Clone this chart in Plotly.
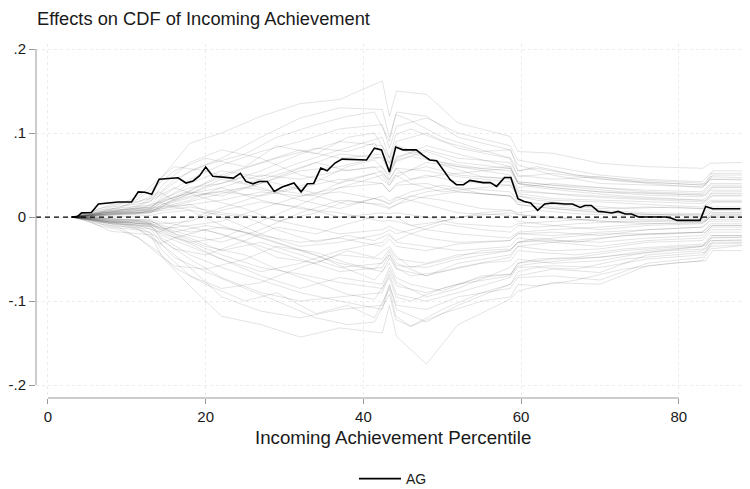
import plotly.graph_objects as go

# ---------------- data ----------------
# Black line: AG effect on CDF of incoming achievement
ag_x = [3.0, 3.65, 4.27, 5.5, 6.4, 7.9, 8.9, 10.6, 11.45, 12.3, 13.15, 14.1, 14.95, 16.5, 17.5,
        18.4, 19.2, 20.0, 20.9, 21.8, 23.5, 24.4, 25.1, 26.0, 26.8, 27.8, 28.7, 29.7, 30.5, 31.2,
        32.1, 32.9, 33.7, 34.6, 35.4, 36.4, 37.3, 40.4, 41.4, 42.3, 43.3, 44.1, 45.0, 46.7, 47.5,
        48.4, 49.3, 50.1, 51.0, 51.8, 52.7, 53.5, 54.4, 55.2, 56.1, 56.9, 57.9, 58.7, 59.6, 60.4,
        61.2, 62.1, 63.0, 63.9, 65.6, 66.5, 67.5, 68.1, 68.9, 69.8, 70.6, 71.5, 72.3, 73.2, 74.0,
        74.9, 78.3, 79.0, 79.8, 82.7, 83.4, 84.3, 87.8]
ag_y = [0, 0, .005, .0055, .0155, .0167, .018, .018, .030, .0295, .027, .045, .0455, .0468, .0405,
        .043, .049, .0595, .0485, .0476, .0464, .052, .0424, .0396, .0424, .0424, .0305, .0357, .0385, .0405,
        .030, .0396, .040, .0583, .055, .0643, .069, .068, .082, .080, .0536, .0833, .080, .080, .074,
        .068, .067, .0563, .0444, .0385, .0385, .0436, .0425, .041, .041, .0365, .047, .047, .0218, .0186,
        .0167, .0079, .0155, .0167, .0155, .0155, .0115, .0138, .0138, .0067, .006, .0048, .0067, .0036, .0036,
        0, 0, -.0012, -.004, -.004, .0126, .0099, .0099]

# Placebo (grey) lines, values in thousandths
placebo_x = [3, 5, 8, 11, 13, 14.5, 18, 22, 27, 32, 37, 42.4, 43.3, 44.2, 48, 52, 58.6, 59.6,
             64, 70, 76, 83, 84, 88]
p01 = [0, 4, 15, 18, 22, 48, 88, 100, 120, 135, 140, 162, 120, 150, 146, 112, 96, 78, 76, 64, 60, 58, 64, 65]
p02 = [0, -4, -17, -19, -21, -48, -82, -118, -128, -143, -132, -138, -105, -142, -175, -128, -98, -88, -78, -80, -58, -52, -38, -34]
p03 = [0, 2, 10, 12, 14, 30, 55, 70, 95, 118, 130, 128, 95, 125, 120, 95, 80, 62, 50, 40, 38, 36, 45, 44]
p04 = [0, -2, -10, -12, -14, -33, -60, -95, -112, -120, -110, -105, -80, -110, -125, -105, -80, -70, -62, -66, -45, -40, -28, -27]
p05 = [0, 3, 8, 10, 12, 20, 40, 55, 48, 65, 80, 95, 70, 90, 100, 82, 70, 48, 52, 45, 42, 38, 48, 47]
p06 = [0, -3, -8, -9, -11, -22, -35, -50, -70, -85, -72, -80, -60, -78, -95, -85, -60, -50, -55, -52, -42, -35, -22, -22]
p07 = [0, 1, 5, 6, 9, 18, 30, 25, 40, 55, 60, 72, 54, 70, 85, 75, 60, 40, 35, 30, 28, 26, 35, 35]
p08 = [0, -1, -5, -6, -8, -15, -25, -40, -30, -45, -60, -55, -41, -55, -70, -60, -48, -35, -40, -38, -30, -28, -18, -18]
p09 = [0, 2, 6, 8, 10, 25, 45, 62, 78, 90, 105, 110, 82, 108, 118, 100, 85, 68, 60, 50, 45, 42, 52, 52]
p10 = [0, -2, -6, -7, -9, -28, -50, -72, -90, -100, -95, -90, -68, -92, -100, -90, -72, -60, -58, -60, -50, -45, -32, -31]
p11 = [0, 1, 3, 4, 5, 10, 15, 20, 30, 25, 35, 40, 30, 40, 50, 42, 38, 25, 20, 18, 15, 12, 20, 20]
p12 = [0, -1, -3, -4, -5, -10, -18, -12, -22, -30, -25, -35, -26, -35, -40, -32, -28, -20, -18, -22, -15, -12, -5, -5]
p13 = [0, 0, 2, 3, 5, 15, 28, 45, 35, 20, 10, 25, 19, 24, 15, 5, 2, -5, -10, -15, -10, -8, 0, 0]
p14 = [0, 0, -2, -3, -4, -12, -22, -30, -15, 5, 20, 15, 11, 15, 25, 30, 25, 18, 15, 10, 12, 10, 18, 18]
p15 = [0, 3, 12, 15, 18, 38, 65, 80, 70, 50, 40, 55, 41, 52, 60, 50, 45, 30, 28, 25, 22, 20, 28, 28]
p16 = [0, -3, -12, -15, -18, -40, -70, -85, -78, -60, -45, -50, -38, -50, -55, -45, -40, -30, -28, -30, -25, -22, -12, -12]
p17 = [0, 2, 8, 10, 12, 22, 35, 40, 55, 75, 90, 85, 64, 82, 70, 60, 50, 35, 40, 35, 30, 28, 38, 38]
p18 = [0, -2, -8, -10, -12, -25, -45, -60, -75, -90, -100, -110, -82, -105, -110, -95, -85, -72, -70, -75, -55, -48, -35, -33]
p19 = [0, 1, 4, 5, 7, 12, 20, 35, 50, 45, 55, 60, 45, 58, 55, 48, 42, 28, 22, 20, 18, 16, 25, 25]
p20 = [0, -1, -4, -5, -7, -14, -10, -5, 10, 25, 30, 20, 15, 20, 30, 35, 30, 20, 12, 8, 5, 4, 12, 12]
p21 = [0, 0, 0, 1, 2, 5, 8, -10, -25, -40, -55, -65, -49, -62, -70, -55, -45, -35, -30, -25, -20, -18, -8, -8]
p22 = [0, 2, 7, 9, 11, 20, 28, 35, 20, 10, 5, -5, -4, -5, -15, -20, -25, -18, -15, -12, -8, -6, 2, 2]
p23 = [0, -2, -7, -9, -11, -20, -30, -25, -5, 15, 35, 50, 38, 48, 65, 60, 55, 40, 35, 30, 26, 24, 32, 32]
p24 = [0, 1, 5, 7, 9, 18, 32, 50, 65, 80, 70, 75, 56, 72, 80, 70, 65, 50, 45, 48, 40, 35, 45, 45]
p25 = [0, -1, -5, -7, -9, -16, -30, -45, -60, -68, -78, -85, -64, -82, -90, -80, -70, -55, -50, -48, -40, -35, -25, -24]
p26 = [0, 0, 3, 4, 6, 8, 12, 5, 0, -10, -20, -15, -11, -15, -25, -30, -28, -20, -22, -18, -15, -12, -3, -3]
p27 = [0, 0, -3, -4, -6, -8, -5, 8, 18, 12, 0, 5, 4, 5, 0, -8, -12, -8, -5, -2, -3, -2, 5, 5]
p28 = [0, 2, 6, 7, 8, 15, 25, 30, 25, 35, 45, 40, 30, 38, 40, 30, 25, 15, 10, 5, 3, 2, 10, 10]
p29 = [0, -2, -6, -7, -8, -18, -32, -50, -65, -55, -40, -30, -22, -30, -35, -40, -35, -25, -30, -35, -28, -25, -15, -15]
p30 = [0, 1, 3, 5, 7, 12, 15, 0, -20, -35, -30, -20, -15, -20, -10, 0, 5, 3, 0, -5, -8, -7, 0, 0]
p31 = [0, -1, -2, -3, -3, -6, -12, -20, -35, -50, -65, -60, -45, -58, -60, -50, -40, -30, -25, -20, -20, -18, -10, -10]
p32 = [0, 2, 4, 5, 6, 10, 18, 28, 40, 58, 75, 70, 52, 68, 78, 65, 58, 42, 38, 35, 32, 30, 40, 40]

placebo_x2 = [3, 4.3, 6.4, 9, 11.5, 14.1, 16, 20, 25, 29, 34, 38, 41.4, 43.3, 44.1, 46, 50, 55,
              58.7, 59.6, 62, 67, 73, 79, 83.4, 84.3, 88]
q01 = [0, 3, 8, 10, 22, 40, 55, 70, 60, 85, 75, 95, 100, 70, 98, 105, 90, 78, 80, 55, 60, 50, 42, 40, 38, 50, 50]
q02 = [0, -3, -8, -12, -25, -42, -60, -80, -100, -90, -115, -105, -120, -85, -118, -130, -115, -100, -95, -80, -82, -75, -62, -55, -52, -40, -40]
q03 = [0, 2, 5, 12, 18, 30, 20, 35, 48, 40, 28, 45, 52, 38, 50, 40, 30, 35, 38, 25, 20, 15, 10, 12, 10, 18, 18]
q04 = [0, -2, -5, -10, -15, -32, -25, -15, -30, -48, -55, -40, -48, -35, -46, -60, -52, -40, -38, -30, -25, -30, -22, -20, -18, -10, -10]
q05 = [0, 1, 4, 8, 14, 28, 45, 62, 75, 95, 110, 120, 125, 90, 122, 115, 95, 80, 70, 55, 58, 50, 45, 42, 40, 55, 55]
q06 = [0, -1, -4, -8, -14, -30, -48, -65, -85, -100, -120, -128, -125, -92, -122, -130, -110, -90, -80, -65, -60, -62, -50, -45, -42, -30, -30]
q07 = [0, 2, 6, 6, 10, 18, 12, 5, 20, 32, 25, 15, 22, 16, 22, 30, 38, 28, 25, 15, 12, 8, 5, 2, 0, 8, 8]
q08 = [0, -2, -6, -6, -10, -18, -10, 5, 0, -15, -30, -22, -28, -20, -28, -20, -8, -15, -18, -10, -12, -8, -5, -4, -3, 5, 5]
q09 = [0, 3, 10, 15, 25, 45, 60, 55, 40, 50, 65, 55, 60, 44, 58, 45, 50, 55, 58, 40, 35, 30, 25, 22, 20, 30, 30]
q10 = [0, -3, -10, -15, -25, -45, -58, -62, -50, -35, -42, -55, -62, -45, -60, -70, -65, -55, -52, -40, -42, -45, -38, -35, -32, -22, -22]
q11 = [0, 1, 2, 4, 8, 12, 18, 28, 35, 30, 42, 60, 68, 50, 66, 72, 65, 58, 60, 42, 40, 35, 30, 28, 26, 36, 36]
q12 = [0, -1, -2, -4, -8, -12, -18, -10, -18, -30, -45, -62, -75, -55, -72, -80, -88, -70, -68, -55, -50, -48, -40, -36, -34, -24, -24]
q13 = [0, 0, 3, 5, 5, 10, 22, 40, 58, 70, 82, 78, 88, 64, 85, 80, 62, 48, 46, 32, 30, 25, 22, 20, 18, 26, 26]
q14 = [0, 0, -3, -5, -5, -10, -20, -35, -45, -62, -78, -92, -98, -72, -95, -100, -85, -72, -68, -58, -55, -50, -45, -40, -38, -28, -28]
q15 = [0, 2, 4, 7, 12, 25, 35, 22, 10, -5, 5, 20, 15, 10, 14, 25, 20, 10, 8, 3, 0, -3, -6, -5, -5, 3, 3]
q16 = [0, -2, -4, -7, -12, -25, -38, -45, -28, -12, -20, -8, 0, 0, 0, -10, -5, 5, 8, 5, 8, 4, 2, 3, 3, 10, 10]

placebo_set1 = [p01, p02, p03, p04, p05, p06, p07, p08, p09, p10, p11, p12, p13, p14, p15, p16,
                p17, p18, p19, p20, p21, p22, p23, p24, p25, p26, p27, p28, p29, p30, p31, p32]
placebo_set2 = [q01, q02, q03, q04, q05, q06, q07, q08, q09, q10, q11, q12, q13, q14, q15, q16]

y_tick_vals = [-0.2, -0.1, 0, 0.1, 0.2]
y_tick_text = ["-.2", "-.1", "0", ".1", ".2"]
x_tick_vals = [0, 20, 40, 60, 80]

# ---------------- figure ----------------
# the page body has an 8px default margin; the figure is sized/offset to compensate
W, H = 742, 500
PLOT_TOP, PLOT_H = 36, 354
FONT = "Arial, Liberation Sans, Helvetica, sans-serif"
TXT = "#1a1a1a"
fig = go.Figure()

for xs, group in ((placebo_x, placebo_set1), (placebo_x2, placebo_set2)):
    for s in group:
        fig.add_trace(go.Scatter(
            x=xs, y=[v / 1000 for v in s], mode="lines",
            line=dict(color="rgba(0,0,0,0.11)", width=1),
            showlegend=False, hoverinfo="skip"))

fig.add_trace(go.Scatter(
    x=ag_x, y=ag_y, mode="lines", name="AG",
    line=dict(color="black", width=1.6)))

fig.update_layout(
    width=W, height=H,
    margin=dict(l=28, r=0, t=PLOT_TOP, b=H - PLOT_TOP - PLOT_H),
    paper_bgcolor="white", plot_bgcolor="white",
    font=dict(family=FONT, color=TXT, size=15),
    title=dict(text="Effects on CDF of Incoming Achievement",
               x=29 / W, xref="container", xanchor="left",
               y=1 - 11 / H, yref="container", yanchor="middle",
               font=dict(size=18.3, family=FONT, color=TXT)),
    showlegend=True,
    legend=dict(orientation="h", x=0.5, xanchor="center", y=-81 / PLOT_H, yanchor="middle",
                font=dict(size=14), bgcolor="rgba(0,0,0,0)", itemwidth=42),
    xaxis=dict(range=[-1.52, 89.03], tickvals=x_tick_vals, ticks="outside", ticklen=5,
               tickcolor="#999999", showgrid=True, gridcolor="#ececec", griddash="dot",
               gridwidth=1, zeroline=False, showline=False, automargin=False,
               tickfont=dict(size=15)),
    yaxis=dict(range=[-0.2154, 0.206], tickvals=y_tick_vals, ticktext=y_tick_text,
               ticks="outside", ticklen=6, tickcolor="#999999", showgrid=True,
               gridcolor="#ececec", griddash="dot", gridwidth=1, zeroline=False,
               showline=False, automargin=False, tickfont=dict(size=15)),
    shapes=[
        dict(type="line", xref="paper", x0=0, x1=1, yref="y", y0=0, y1=0,
             line=dict(color="black", width=1.3, dash="5px,4px"), layer="above"),
        dict(type="line", xref="paper", x0=0, x1=0, yref="y", y0=-0.2, y1=0.2,
             line=dict(color="#999999", width=1)),
        dict(type="line", xref="x", x0=0, x1=80, yref="paper", y0=0, y1=0,
             line=dict(color="#999999", width=1)),
    ],
    annotations=[
        dict(text="Incoming Achievement Percentile", xref="paper", x=0.5, xanchor="center",
             yref="paper", y=-39 / PLOT_H, yanchor="middle", showarrow=False,
             font=dict(size=18.7, family=FONT, color=TXT)),
    ],
)

fig.write_html("out.html")
